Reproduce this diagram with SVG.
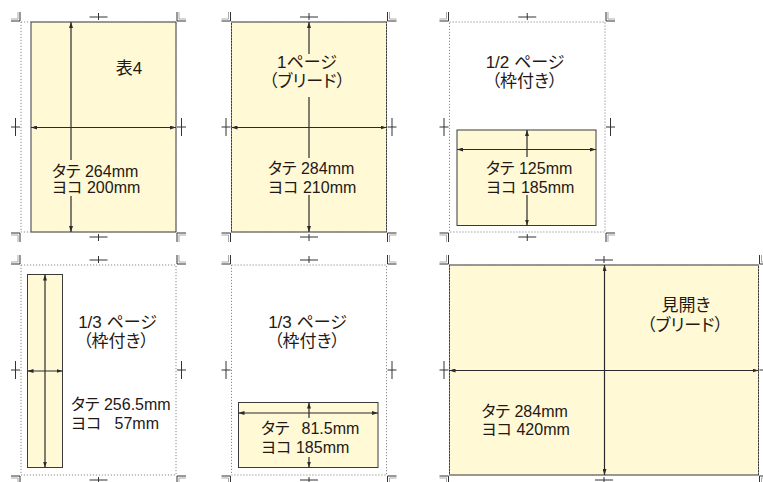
<svg xmlns="http://www.w3.org/2000/svg" width="763" height="482" viewBox="0 0 763 482">
<style>
text{font-family:"Liberation Sans","Noto Sans CJK JP",sans-serif;fill:#231815;font-feature-settings:"palt" 1;}
.t{font-size:17px;text-anchor:middle;}
.s{font-size:16px;}
.page{fill:none;stroke:#8a8a8a;stroke-width:1;stroke-dasharray:1.2 1.8;}
.area{fill:#fff9d6;stroke:#3a3a3a;stroke-width:1;}
.mk{fill:none;stroke:#333;stroke-width:1;}
.mk2{fill:none;stroke:#aaa;stroke-width:1;}
.dim{stroke:#2b2b2b;stroke-width:1.2;fill:none;}
.a2{marker-start:url(#ah);marker-end:url(#ah);}
.ae{marker-end:url(#ah);}
</style>
<defs>
<marker id="ah" viewBox="0 0 6 4" refX="6" refY="2" markerWidth="6" markerHeight="4" markerUnits="userSpaceOnUse" orient="auto-start-reverse"><path d="M0,0L6,2L0,4z" fill="#2b2b2b"/></marker>
</defs>

<g id="panel-hyo4">
<rect class="area" x="31" y="22" width="145" height="210"/>
<rect class="page" x="21" y="22" width="155" height="210"/>
<path class="mk2" d="M18,12V19H11M179,12V19H186M18,242V235H11M179,242V235H186"/>
<path class="mk" d="M20,12V21H11M177,12V21H186M20,242V233H11M177,242V233H186"/>
<path class="mk" d="M89.5,17H107.5M98.5,13V20M89.5,237H107.5M98.5,234V241M15.5,118V136M11,127H20M181.5,118V136M177,127H186"/>
<path class="dim ae" d="M71,160V22"/>
<path class="dim ae" d="M71,196V232"/>
<path class="dim a2" d="M31,127.5H176"/>
<text class="t" x="129" y="74">表4</text>
<text class="s" x="52" y="176.5">タテ 264mm</text>
<text class="s" x="52" y="193">ヨコ 200mm</text>
</g>

<g id="panel-1page">
<rect class="area" x="231.5" y="22" width="155" height="210"/>
<rect class="page" x="231.5" y="22" width="155" height="210"/>
<path class="mk2" d="M228.5,12V19H221.5M389.5,12V19H396.5M228.5,242V235H221.5M389.5,242V235H396.5"/>
<path class="mk" d="M230.5,12V21H221.5M387.5,12V21H396.5M230.5,242V233H221.5M387.5,242V233H396.5"/>
<path class="mk" d="M300,17H318M309,13V20M300,237H318M309,234V241M226,118V136M221.5,127H230.5M392,118V136M387.5,127H396.5"/>
<path class="dim ae" d="M309,54V22"/>
<path class="dim" d="M309,97V158"/>
<path class="dim ae" d="M309,195V232"/>
<path class="dim a2" d="M231.5,127.5H386.5"/>
<text class="t" x="307" y="68">1ページ</text>
<text class="t" x="307" y="86.5">（ブリード）</text>
<text class="s" x="268" y="174">タテ 284mm</text>
<text class="s" x="268" y="192.5">ヨコ 210mm</text>
</g>

<g id="panel-half">
<rect class="area" x="457" y="130" width="139" height="95.5"/>
<rect class="page" x="449.5" y="22" width="155.5" height="210"/>
<path class="mk2" d="M446.5,12V19H439.5M608,12V19H615M446.5,242V235H439.5M608,242V235H615"/>
<path class="mk" d="M448.5,12V21H439.5M606,12V21H615M448.5,242V233H439.5M606,242V233H615"/>
<path class="mk" d="M518.25,17H536.25M527.25,13V20M518.25,237H536.25M527.25,234V241M444,118V136M439.5,127H448.5M610.5,118V136M606,127H615"/>
<path class="dim ae" d="M527,157V130"/>
<path class="dim ae" d="M527,195V225.5"/>
<path class="dim a2" d="M457,149.5H596"/>
<text class="t" x="525" y="68">1/2 ページ</text>
<text class="t" x="524.5" y="86.5">（枠付き）</text>
<text class="s" x="486" y="174">タテ 125mm</text>
<text class="s" x="486" y="192.5">ヨコ 185mm</text>
</g>

<g id="panel-third-v">
<rect class="area" x="27.5" y="274.5" width="35" height="193"/>
<rect class="page" x="21" y="265" width="155" height="210"/>
<path class="mk2" d="M18,255V262H11M179,255V262H186M18,485V478H11M179,485V478H186"/>
<path class="mk" d="M20,255V264H11M177,255V264H186M20,485V476H11M177,485V476H186"/>
<path class="mk" d="M89.5,260H107.5M98.5,256V263M89.5,480H107.5M98.5,477V484M15.5,361V379M11,370H20M181.5,361V379M177,370H186"/>
<path class="dim a2" d="M45,274.5V467.5"/>
<path class="dim a2" d="M27.5,371H62.5"/>
<text class="t" x="117.5" y="327.5">1/3 ページ</text>
<text class="t" x="116" y="346.5">（枠付き）</text>
<text class="s" x="71" y="410">タテ 256.5mm</text>
<text class="s" x="71" y="429">ヨコ <tspan x="114.5">57mm</tspan></text>
</g>

<g id="panel-third-h">
<rect class="area" x="238.5" y="402.5" width="139.5" height="65"/>
<rect class="page" x="231.5" y="265" width="155" height="210"/>
<path class="mk2" d="M228.5,255V262H221.5M389.5,255V262H396.5M228.5,485V478H221.5M389.5,485V478H396.5"/>
<path class="mk" d="M230.5,255V264H221.5M387.5,255V264H396.5M230.5,485V476H221.5M387.5,485V476H396.5"/>
<path class="mk" d="M300,260H318M309,256V263M300,480H318M309,477V484M226,361V379M221.5,370H230.5M392,361V379M387.5,370H396.5"/>
<path class="dim ae" d="M309,418V402.5"/>
<path class="dim ae" d="M309,457V467.5"/>
<path class="dim a2" d="M238.5,413H378"/>
<text class="t" x="307.5" y="327.5">1/3 ページ</text>
<text class="t" x="307" y="346.5">（枠付き）</text>
<text class="s" x="261" y="434">タテ <tspan x="301.5">81.5mm</tspan></text>
<text class="s" x="261" y="452.5">ヨコ 185mm</text>
</g>

<g id="panel-spread">
<rect class="area" x="449.5" y="265" width="309" height="210"/>
<rect class="page" x="449.5" y="265" width="309" height="210"/>
<path class="mk2" d="M446.5,255V262H439.5M761.5,255V262H768.5M446.5,485V478H439.5M761.5,485V478H768.5"/>
<path class="mk" d="M448.5,255V264H439.5M759.5,255V264H768.5M448.5,485V476H439.5M759.5,485V476H768.5"/>
<path class="mk" d="M595,260H613M604,256V263M595,480H613M604,477V484M444,361V379M439.5,370H448.5M764,361V379M759.5,370H768.5"/>
<path class="dim a2" d="M604.5,265V475"/>
<path class="dim a2" d="M449.5,370.5H758.5"/>
<text class="t" x="686" y="311">見開き</text>
<text class="t" x="685" y="331">（ブリード）</text>
<text class="s" x="481.5" y="416.5">タテ 284mm</text>
<text class="s" x="481.5" y="435">ヨコ 420mm</text>
</g>
</svg>
